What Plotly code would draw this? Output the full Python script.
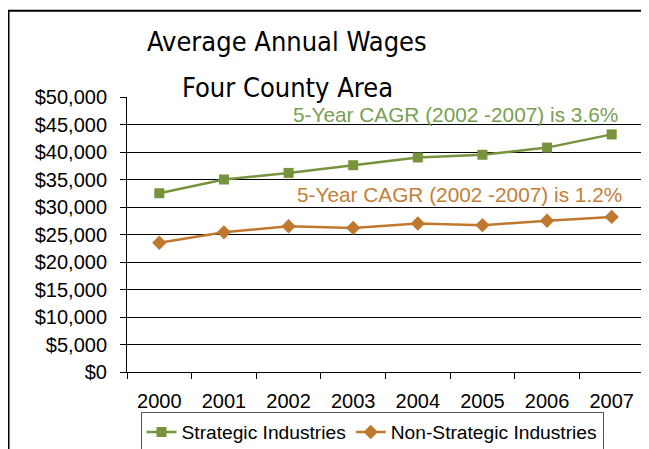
import plotly.graph_objects as go

years = ["2000", "2001", "2002", "2003", "2004", "2005", "2006", "2007"]
strategic = [32500, 35000, 36200, 37600, 39000, 39500, 40800, 43200]
non_strategic = [23500, 25400, 26500, 26200, 27000, 26700, 27500, 28200]
y_ticks = [0, 5000, 10000, 15000, 20000, 25000, 30000, 35000, 40000, 45000, 50000]
y_tick_labels = ["$" + f"{v:,}" for v in y_ticks]
title_lines = ["Average Annual Wages", "Four County Area"]

GREEN = "#77933C"
ORANGE = "#C0782E"
FONT = "Liberation Sans, Arial, sans-serif"
TFONT = "DejaVu Sans Condensed, DejaVu Sans, sans-serif"

W, H = 641, 441
L, R, T, B = 119, 5, 89, 77
PW, PH = W - L - R, H - T - B


def px(xf):
    return (xf - L) / PW


def py(yf):
    return (H - B - yf) / PH


fig = go.Figure()
fig.add_trace(go.Scatter(
    x=years, y=strategic, mode="lines+markers", name="Strategic Industries",
    line=dict(color=GREEN, width=2.5),
    marker=dict(symbol="square", size=10, color=GREEN),
))
fig.add_trace(go.Scatter(
    x=years, y=non_strategic, mode="lines+markers", name="Non-Strategic Industries",
    line=dict(color=ORANGE, width=2.5),
    marker=dict(symbol="diamond", size=11, color=ORANGE),
))

fig.update_layout(
    width=W, height=H,
    margin=dict(l=L, r=R, t=T, b=B, autoexpand=False),
    paper_bgcolor="white", plot_bgcolor="white",
    font=dict(family=FONT, size=20, color="black"),
    showlegend=True,
    legend=dict(
        orientation="h", x=px(364), xanchor="center",
        y=py(404), yanchor="top",
        bgcolor="rgba(0,0,0,0)",
        bordercolor="#555555", borderwidth=1,
        font=dict(family=FONT, size=19.2),
        itemwidth=30, tracegroupgap=0,
    ),
    xaxis=dict(
        type="category", range=[-0.5, 7.5],
        tickson="boundaries", ticks="outside", ticklen=6, tickcolor="black",
        showline=True, linecolor="black", linewidth=1,
        showgrid=False, ticklabelstandoff=11,
        tickfont=dict(family=FONT, size=20),
    ),
    yaxis=dict(
        range=[0, 50000], tickvals=y_ticks, ticktext=y_tick_labels,
        ticks="outside", ticklen=6, tickcolor="black",
        showline=True, linecolor="black", linewidth=1,
        showgrid=True, gridcolor="black", gridwidth=1,
        ticklabelstandoff=9, zeroline=False,
        tickfont=dict(family=FONT, size=20),
    ),
    annotations=[
        dict(text=title_lines[0], xref="paper", yref="paper",
             x=px(279), y=py(33), xanchor="center", yanchor="middle",
             showarrow=False, font=dict(family=TFONT, size=27, color="black")),
        dict(text=title_lines[1], xref="paper", yref="paper",
             x=px(279), y=py(79), xanchor="center", yanchor="middle",
             showarrow=False, font=dict(family=TFONT, size=27, color="black")),
        dict(text="5-Year CAGR (2002 -2007) is 3.6%", xref="paper", yref="y",
             x=px(612), y=46750, xanchor="right", yanchor="middle",
             showarrow=False, font=dict(family=FONT, size=20.8, color="#77A050")),
        dict(text="5-Year CAGR (2002 -2007) is 1.2%", xref="paper", yref="y",
             x=px(616), y=32300, xanchor="right", yanchor="middle",
             showarrow=False, font=dict(family=FONT, size=20.8, color="#C47E36")),
    ],
    shapes=[
        dict(type="rect", xref="paper", yref="paper",
             x0=px(0.5), x1=px(660), y0=py(460), y1=py(2.7),
             line=dict(color="black", width=2), fillcolor="rgba(0,0,0,0)", layer="below"),
    ],
)

fig.write_html("out.html")
